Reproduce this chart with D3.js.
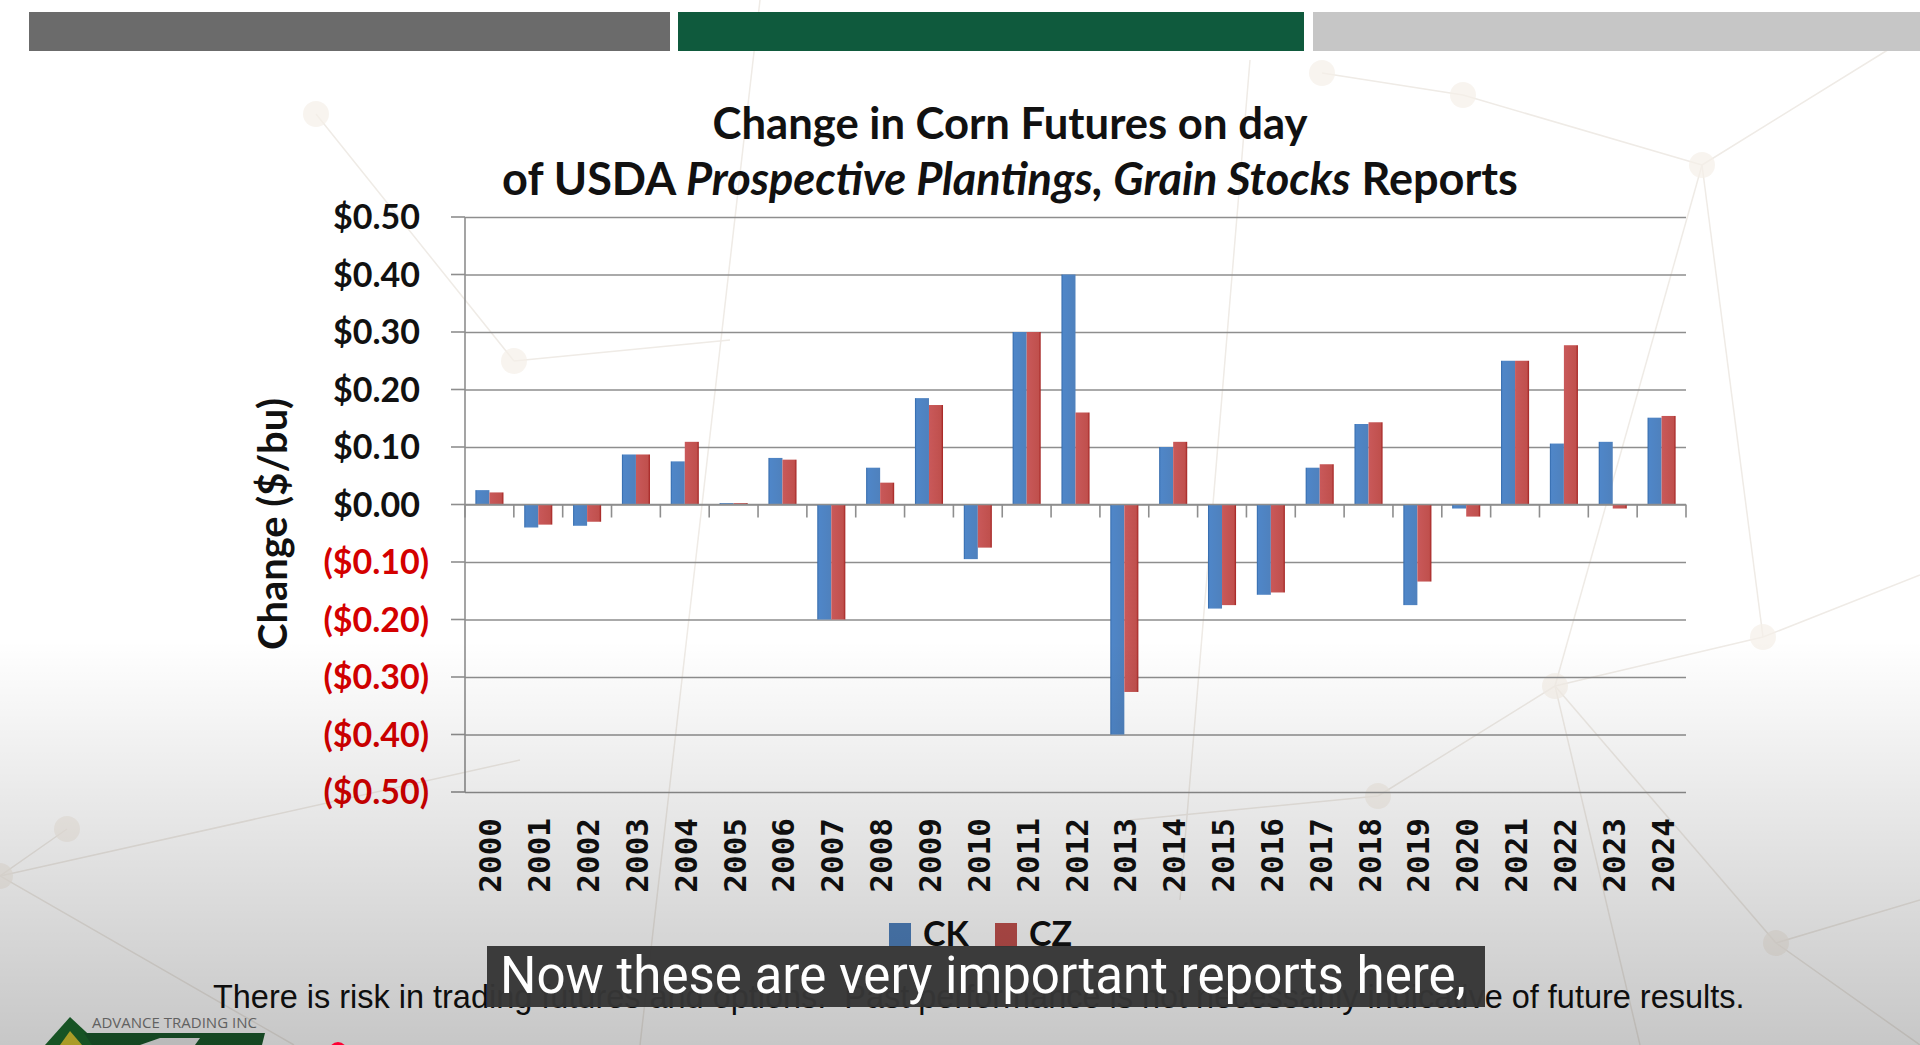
<!DOCTYPE html>
<html>
<head>
<meta charset="utf-8">
<script src="https://cdn.jsdelivr.net/npm/d3@7"></script>
<style>
  html, body { margin: 0; padding: 0; background: #ffffff; overflow: hidden; }
  svg { display: block; }
</style>
</head>
<body>
<svg id="chart" width="1920" height="1045"></svg>
<script>
// ---------------- DATA ----------------
const years = ["2000","2001","2002","2003","2004","2005","2006","2007","2008","2009","2010","2011","2012",
               "2013","2014","2015","2016","2017","2018","2019","2020","2021","2022","2023","2024"];
const seriesNames = ["CK", "CZ"];
const ckValues = [0.025, -0.040, -0.037, 0.087, 0.075, 0.0025, 0.081, -0.200, 0.064, 0.185, -0.095, 0.300, 0.400,
                  -0.400, 0.100, -0.181, -0.157, 0.064, 0.140, -0.175, -0.007, 0.250, 0.106, 0.109, 0.151];
const czValues = [0.021, -0.035, -0.030, 0.087, 0.109, 0.0025, 0.078, -0.200, 0.038, 0.173, -0.075, 0.300, 0.160,
                  -0.326, 0.109, -0.175, -0.153, 0.070, 0.143, -0.134, -0.021, 0.250, 0.277, -0.007, 0.154];
const yTickValues = [-0.5, -0.4, -0.3, -0.2, -0.1, 0, 0.1, 0.2, 0.3, 0.4, 0.5];
const titleLine1 = "Change in Corn Futures on day";
const titleLine2 = [["of USDA ", "normal"], ["Prospective Plantings, Grain Stocks", "italic"], [" Reports", "normal"]];
const yAxisTitle = "Change ($/bu)";
const captionText = "Now these are very important reports here,";
const disclaimerText = "There is risk in trading futures and options.  Past performance is not necessarily indicative of future results.";
const logoText = "ADVANCE TRADING INC";

// ---------------- SETUP ----------------
const svg = d3.select("#chart");
const defs = svg.append("defs");

function fitWidth(sel, target) {
  const fs = parseFloat(sel.attr("font-size"));
  const w = sel.node().getComputedTextLength();
  if (w > 0) sel.attr("font-size", fs * target / w);
  return sel;
}

// background decoration (faint network pattern)
const deco = svg.append("g").attr("stroke", "#efebe6").attr("stroke-width", 1.5).attr("fill", "none");
const decoLines = [
  [[1702,165],[1555,686]], [[1702,165],[1763,637]], [[1555,686],[1763,637]], [[1555,686],[1776,943]],
  [[1763,637],[1920,575]], [[1702,165],[1920,30]], [[1463,95],[1702,165]], [[1322,73],[1463,95]],
  [[316,114],[514,361]], [[514,361],[730,340]], [[0,876],[294,1045]], [[0,876],[520,760]],
  [[67,829],[0,876]], [[1378,796],[1555,686]], [[1130,820],[1378,796]], [[1776,943],[1920,900]],
  [[1250,60],[1180,900]], [[1555,686],[1640,1045]], [[1776,943],[1920,1045]], [[760,0],[640,1045]]
];
decoLines.forEach(l => deco.append("line").attr("x1", l[0][0]).attr("y1", l[0][1]).attr("x2", l[1][0]).attr("y2", l[1][1]));
const decoNodes = [[316,114],[514,361],[1322,73],[1463,95],[1702,165],[1763,637],[1555,686],[1776,943],[1378,796],[67,829],[0,876]];
decoNodes.forEach(n => svg.append("circle").attr("cx", n[0]).attr("cy", n[1]).attr("r", 13).attr("fill", "#f5efe8").attr("opacity", 0.7));

// top banner bars
svg.append("rect").attr("x", 29).attr("y", 12).attr("width", 641).attr("height", 39).attr("fill", "#6b6b6b");
svg.append("rect").attr("x", 678).attr("y", 12).attr("width", 626).attr("height", 39).attr("fill", "#0f5a3d");
svg.append("rect").attr("x", 1313).attr("y", 12).attr("width", 607).attr("height", 39).attr("fill", "#c6c6c6");

// ---------------- CHART ----------------
const plotLeft = 465, plotRight = 1686, plotTop = 217, plotBottom = 792;

const x = d3.scaleBand().domain(years).range([plotLeft, plotRight]).paddingInner(0).paddingOuter(0);
const xInner = d3.scaleBand().domain(seriesNames).range([0, x.bandwidth()]).paddingInner(0).paddingOuter(0.74);
const y = d3.scaleLinear().domain([-0.5, 0.5]).range([plotBottom, plotTop]);

// gridlines
const grid = svg.append("g")
  .attr("transform", `translate(${plotLeft},0)`)
  .call(d3.axisLeft(y).tickValues(yTickValues).tickSize(-(plotRight - plotLeft)).tickFormat(""));
grid.select(".domain").remove();
grid.selectAll(".tick line").attr("stroke", "#8e8e8e").attr("stroke-width", 1.6);
// tick extension on the left
svg.append("g").selectAll("line").data(yTickValues).join("line")
  .attr("x1", plotLeft - 14).attr("x2", plotLeft).attr("y1", d => y(d)).attr("y2", d => y(d))
  .attr("stroke", "#8e8e8e").attr("stroke-width", 1.6);

// vertical axis
svg.append("line").attr("x1", plotLeft).attr("x2", plotLeft).attr("y1", plotTop).attr("y2", plotBottom)
  .attr("stroke", "#8e8e8e").attr("stroke-width", 1.6);

// gradients for bars
const gBlue = defs.append("linearGradient").attr("id", "gBlue").attr("x1", "0").attr("x2", "1").attr("y1", "0").attr("y2", "0");
gBlue.append("stop").attr("offset", "0").attr("stop-color", "#2f66a8");
gBlue.append("stop").attr("offset", "0.12").attr("stop-color", "#4f86c8");
gBlue.append("stop").attr("offset", "1").attr("stop-color", "#4f81bd");
const gRed = defs.append("linearGradient").attr("id", "gRed").attr("x1", "0").attr("x2", "1").attr("y1", "0").attr("y2", "0");
gRed.append("stop").attr("offset", "0").attr("stop-color", "#c9595a");
gRed.append("stop").attr("offset", "0.85").attr("stop-color", "#c0504d");
gRed.append("stop").attr("offset", "1").attr("stop-color", "#a3201f");

const seriesData = [ckValues, czValues];
const fills = ["url(#gBlue)", "url(#gRed)"];
const barData = [];
years.forEach((yr, i) => seriesNames.forEach((s, j) => barData.push({ year: yr, series: s, value: seriesData[j][i], fill: fills[j] })));

svg.append("g").selectAll("rect").data(barData).join("rect")
  .attr("x", d => x(d.year) + xInner(d.series))
  .attr("width", xInner.bandwidth())
  .attr("y", d => y(Math.max(0, d.value)))
  .attr("height", d => Math.max(1, Math.abs(y(d.value) - y(0))))
  .attr("fill", d => d.fill);

// zero line and category ticks
svg.append("line").attr("x1", plotLeft).attr("x2", plotRight).attr("y1", y(0)).attr("y2", y(0))
  .attr("stroke", "#8e8e8e").attr("stroke-width", 1.6);
const boundaries = years.map(d => x(d)).concat([plotRight]);
svg.append("g").selectAll("line").data(boundaries).join("line")
  .attr("x1", d => d).attr("x2", d => d).attr("y1", y(0)).attr("y2", y(0) + 13)
  .attr("stroke", "#8e8e8e").attr("stroke-width", 1.6);

// y tick labels
const yLab = svg.append("g").attr("font-family", "Lato, 'Open Sans', sans-serif").attr("font-weight", "bold");
const sample = yLab.append("text").attr("font-size", 36).text("$0.50");
fitWidth(sample, 87);
const yFs = parseFloat(sample.attr("font-size"));
sample.remove();
yLab.selectAll("text").data(yTickValues).join("text")
  .attr("x", d => d < 0 ? 429 : 420)
  .attr("y", d => y(d))
  .attr("dy", "0.36em")
  .attr("text-anchor", "end")
  .attr("font-size", yFs)
  .attr("fill", d => d < 0 ? "#d40000" : "#111111")
  .text(d => d < 0 ? `($${Math.abs(d).toFixed(2)})` : `$${d.toFixed(2)}`);

// y axis title
const yt = svg.append("text")
  .attr("transform", "translate(287,524) rotate(-90)")
  .attr("text-anchor", "middle")
  .attr("font-family", "Lato, 'Open Sans', sans-serif").attr("font-weight", "bold")
  .attr("font-size", 36).attr("fill", "#111").text(yAxisTitle);
fitWidth(yt, 252);

// x labels
svg.append("g").selectAll("text").data(years).join("text")
  .attr("transform", d => `translate(${x(d) + x.bandwidth() / 2 + 12},818) rotate(-90)`)
  .attr("text-anchor", "end")
  .attr("font-family", "'DejaVu Sans Mono', monospace").attr("font-weight", "bold")
  .attr("font-size", 31).attr("fill", "#111").text(d => d);

// title
const t1 = svg.append("text").attr("x", 1010).attr("y", 139).attr("text-anchor", "middle")
  .attr("font-family", "Lato, 'Open Sans', sans-serif").attr("font-weight", "bold")
  .attr("font-size", 40).attr("fill", "#111").text(titleLine1);
fitWidth(t1, 595);
const t2 = svg.append("text").attr("x", 1010).attr("y", 195).attr("text-anchor", "middle")
  .attr("font-family", "Lato, 'Open Sans', sans-serif").attr("font-weight", "bold")
  .attr("font-size", 40).attr("fill", "#111");
titleLine2.forEach(p => t2.append("tspan").attr("font-style", p[1]).text(p[0]));
fitWidth(t2, 1016);

// legend
const legendItems = [{ name: "CK", fill: "#4f81bd", x: 889 }, { name: "CZ", fill: "#c0504d", x: 995 }];
const lg = svg.append("g");
legendItems.forEach(it => {
  lg.append("rect").attr("x", it.x).attr("y", 923).attr("width", 22).attr("height", 24).attr("fill", it.fill);
  lg.append("text").attr("x", it.x + 34).attr("y", 946)
    .attr("font-family", "Lato, 'Open Sans', sans-serif").attr("font-weight", "bold")
    .attr("font-size", 34).attr("fill", "#111").text(it.name);
});

// disclaimer
const disc = svg.append("text").attr("x", 213).attr("y", 1008)
  .attr("font-family", "'Liberation Sans', Arial, sans-serif")
  .attr("font-size", 27).attr("fill", "#111").attr("xml:space", "preserve").style("white-space", "pre").text(disclaimerText);
fitWidth(disc, 1532);

// logo
svg.append("text").attr("x", 92).attr("y", 1028).attr("font-family", "'Open Sans', sans-serif")
  .attr("font-size", 15).attr("fill", "#7a7a7a").text(logoText);
svg.append("path").attr("d", "M45,1045 L70,1017 L100,1045 Z").attr("fill", "#1d6a2e");
svg.append("path").attr("d", "M60,1045 L70,1031 L82,1045 Z").attr("fill", "#d9c732");
svg.append("path").attr("d", "M84,1033 L265,1033 L262,1045 L92,1045 Z").attr("fill", "#1b5a2c");
svg.append("path").attr("d", "M140,1045 L160,1038 L200,1038 L195,1045 Z").attr("fill", "#eeeeee");

// bottom overlay gradient
const gOv = defs.append("linearGradient").attr("id", "gOv").attr("x1", "0").attr("x2", "0").attr("y1", "0").attr("y2", "1");
gOv.append("stop").attr("offset", "0").attr("stop-color", "#000").attr("stop-opacity", 0);
gOv.append("stop").attr("offset", "1").attr("stop-color", "#000").attr("stop-opacity", 0.22);
svg.append("rect").attr("x", 0).attr("y", 640).attr("width", 1920).attr("height", 405).attr("fill", "url(#gOv)").attr("pointer-events", "none");

// caption
svg.append("rect").attr("x", 487).attr("y", 946).attr("width", 998).attr("height", 61).attr("fill", "#363636").attr("opacity", 0.97);
const cap = svg.append("text").attr("x", 500).attr("y", 993)
  .attr("font-family", "Roboto, 'Noto Sans', sans-serif")
  .attr("font-size", 50).attr("fill", "#ffffff").text(captionText);
fitWidth(cap, 966);

// progress dot
svg.append("circle").attr("cx", 338).attr("cy", 1051).attr("r", 9).attr("fill", "#ff0033");
</script>
</body>
</html>
